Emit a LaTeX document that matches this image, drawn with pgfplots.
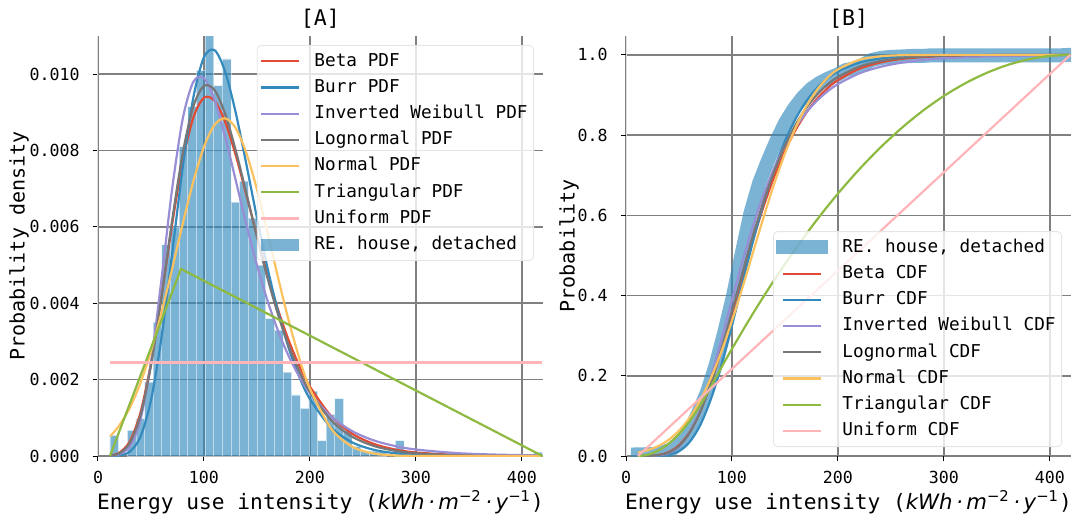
\documentclass[border=0pt]{standalone}
\usepackage{fontspec}
\setmainfont{DejaVu Sans Mono}
\newfontfamily\dvs{DejaVu Sans}
\usepackage{pgfplots}
\usepackage{pgfplotstable}
\pgfplotsset{compat=1.18}

\definecolor{ggred}{HTML}{E24A33}
\definecolor{ggblue}{HTML}{348ABD}
\definecolor{ggpurple}{HTML}{988ED5}
\definecolor{gggray}{HTML}{777777}
\definecolor{ggyellow}{HTML}{FBC15E}
\definecolor{gggreen}{HTML}{8EBA42}
\definecolor{ggpink}{HTML}{FFB5B8}

% histogram (bin centres, density), bin width 8.164
\pgfplotstableread{
x y
15.38 0.00054
31.71 0.00067
39.87 0.00098
48.04 0.00194
56.20 0.0035
64.37 0.00553
72.53 0.0060
80.70 0.0081
88.86 0.00915
97.02 0.0101
105.19 0.0125
113.35 0.0097
121.51 0.0104
129.68 0.00665
137.84 0.0072
146.01 0.00623
154.17 0.0050
162.33 0.0036
170.50 0.0033
178.66 0.0022
186.83 0.0016
194.99 0.00125
203.15 0.0017
211.32 0.0004
219.48 0.00109
227.65 0.0015
235.81 0.00067
243.97 0.00025
252.14 0.00013
260.30 0.00013
268.46 0.00013
284.79 0.0004
415.42 0.0001
}\hist

% fitted densities
\pgfplotstableread{
x beta burr invw logn norm
11.5 0.0000137 0.0000012 0.0000069 0.0000103 0.000517
20 0.000083 0.0000142 0.0000441 0.0000682 0.000795
30 0.000382 0.000113 0.000249 0.000339 0.001262
40 0.001126 0.000501 0.000937 0.001057 0.001908
50 0.002433 0.001457 0.002436 0.00237 0.002746
60 0.004185 0.003119 0.004648 0.004186 0.003760
70 0.006069 0.005306 0.007000 0.006175 0.004904
80 0.007721 0.007564 0.008834 0.007934 0.006086
90 0.008865 0.009389 0.009800 0.009153 0.007193
100 0.009384 0.010443 0.009894 0.009693 0.008095
110 0.009305 0.010630 0.009326 0.009584 0.008672
120 0.008751 0.010069 0.008356 0.008960 0.008844
130 0.007879 0.008990 0.007219 0.008003 0.008587
140 0.006844 0.007643 0.006069 0.006883 0.007937
150 0.005771 0.006241 0.005004 0.005738 0.006985
160 0.004747 0.004925 0.004067 0.004660 0.005852
170 0.003823 0.003776 0.003273 0.003702 0.004667
180 0.003026 0.002827 0.002616 0.002888 0.003544
190 0.002360 0.002072 0.002081 0.002217 0.002563
200 0.001818 0.001495 0.001651 0.001682 0.001763
220 0.001046 0.000745 0.001035 0.000936 0.000721
240 0.000584 0.000356 0.000650 0.000505 0.000242
260 0.000320 0.000165 0.000411 0.000267 0.0000667
280 0.000172 0.0000749 0.000263 0.000139 0.0000151
300 0.000092 0.0000335 0.000170 0.0000713 0.0000028
340 0.0000258 0.0000066 0.0000735 0.0000186 0
380 0.0000072 0.0000013 0.0000339 0.0000048 0
419.5 0.000002 0.0000002 0.0000166 0.0000012 0
}\pdfs

% fitted distribution functions
\pgfplotstableread{
x beta burr invw logn norm
11.3 0.00005 0 0.00003 0.00003 0.0085
20 0.0004 0.00005 0.0002 0.0003 0.0141
30 0.0024 0.0006 0.00145 0.0021 0.0242
40 0.0095 0.0033 0.0068 0.0086 0.0399
50 0.0269 0.0125 0.0229 0.0252 0.0630
60 0.0597 0.0348 0.0580 0.0577 0.0954
70 0.1110 0.0767 0.1164 0.1095 0.1387
80 0.1803 0.1412 0.1962 0.1804 0.1935
90 0.2637 0.2265 0.2901 0.2664 0.2601
100 0.3554 0.3263 0.3892 0.3611 0.3369
110 0.4494 0.4324 0.4858 0.4580 0.4207
120 0.5400 0.5365 0.5744 0.5512 0.5088
130 0.6234 0.6321 0.6524 0.6362 0.5964
140 0.6971 0.7154 0.7187 0.7107 0.6794
150 0.7601 0.7847 0.7741 0.7737 0.7540
160 0.8126 0.8405 0.8193 0.8256 0.8183
170 0.8553 0.8838 0.8559 0.8673 0.8710
180 0.8895 0.9166 0.8852 0.9001 0.9120
190 0.9163 0.9410 0.9086 0.9256 0.9423
200 0.9370 0.9587 0.9272 0.9449 0.9637
220 0.9651 0.9803 0.9536 0.9705 0.9874
240 0.9810 0.9909 0.9701 0.9845 0.9964
260 0.9898 0.9959 0.9805 0.9919 0.9991
280 0.9945 0.9981 0.9871 0.9959 0.9998
300 0.9971 0.9992 0.9914 0.9979 1.0
340 0.9992 0.9998 0.9959 0.9994 1.0
380 0.9998 1.0 0.9980 0.9999 1.0
419.5 0.9999 1.0 0.9989 1.0 1.0
}\cdfs

\pgfplotstableread{
x y
11.3 0
20 0.00277
30 0.01279
40 0.03012
50 0.05476
60 0.08672
70 0.12599
78.3 0.16414
90 0.2205
100 0.2671
120 0.3560
140 0.4391
160 0.5165
180 0.5882
200 0.6541
220 0.7142
240 0.7687
260 0.8173
280 0.8603
300 0.8975
320 0.9289
340 0.9546
360 0.9746
380 0.9888
400 0.9973
419.5 1.0
}\tricdf

% empirical CDF
\pgfplotstableread{
x y
11.3 0.004
19.46 0.0045
27.63 0.0050
35.79 0.0100
43.96 0.0180
52.12 0.0340
60.28 0.0630
68.45 0.1090
76.61 0.1600
84.78 0.2280
92.94 0.3100
101.10 0.4000
109.27 0.5050
117.43 0.6050
125.60 0.6800
133.76 0.7350
141.92 0.7850
150.09 0.8300
158.25 0.8650
166.42 0.8930
174.58 0.9150
182.74 0.9300
190.91 0.9410
199.07 0.9500
207.24 0.9620
215.40 0.9660
223.56 0.9750
231.73 0.9870
239.89 0.9920
248.06 0.9945
256.22 0.9955
264.38 0.9965
272.55 0.9975
280.71 0.9975
288.88 0.9990
411.34 0.9990
419.50 1.0000
}\ecdf

\pgfplotsset{
  eui/.style={
    width=222.5pt, height=210pt, scale only axis,
    xmin=0, xmax=420, xtick={0,100,200,300,400},
    axis lines*=left,
    x axis line style={draw=none},
    y axis line style={draw=black!12, line width=0.5pt},
    tick align=outside, major tick length=2.5pt,
    tick style={black, line width=0.5pt},
    grid=major, major grid style={draw=black!50, line width=0.8pt},
    tick label style={font=\fontsize{8.3}{10}\selectfont},
    /pgf/number format/assume math mode=true,
    xticklabel style={yshift=-1.75pt},
    every axis x label/.style={at={([yshift=-23pt]axis description cs:0.5,0)}, anchor=center},
    every axis title/.style={at={([yshift=8.5pt]axis description cs:0.5,1)}, anchor=center, font=\fontsize{10.8}{13}\selectfont},
    label style={font=\fontsize{10.6}{12}\selectfont},
    xlabel={Energy use intensity ({\dvs\itshape kWh\,·\,m\textsuperscript{\upshape −2}\,·\,y\textsuperscript{\upshape −1}})},
    legend cell align=left,
    legend image code/.code={\draw[##1] (0pt,0pt) -- (19pt,0pt);},
    legend style={font=\fontsize{8.85}{10}\selectfont,
      draw=black!10, fill=white, fill opacity=0.8, text opacity=1, draw opacity=1,
      rounded corners=2pt, inner xsep=1.5pt, inner ysep=2pt,
      nodes={inner sep=1.5pt, text height=6.8pt, text depth=2pt},
      row sep=1.3pt,
      /tikz/every odd column/.append style={column sep=5.5pt}},
    every axis plot/.append style={line width=1.1pt},
  },
}

\begin{document}
\begin{tikzpicture}
\begin{axis}[eui, name=a,
    ymin=0, ymax=0.011, ytick={0,0.002,0.004,0.006,0.008,0.010},
    scaled y ticks=false,
    yticklabel style={xshift=-3.2pt, /pgf/number format/fixed,
      /pgf/number format/fixed zerofill, /pgf/number format/precision=3},
    ylabel={Probability density},
    every axis y label/.style={at={([xshift=-39.5pt]axis description cs:0,0.5)}, rotate=90, anchor=center},
    title={[A]},
    legend style={at={(1,1)}, anchor=north east, xshift=-4.5pt, yshift=-4.5pt}]
  \addplot[ybar, bar width=8.164, bar shift=0pt, fill=ggblue, fill opacity=0.65,
    draw=white, draw opacity=0.5, line width=0.4pt, forget plot] table[x=x, y=y] {\hist};
  \addplot[ggred, smooth] table[x=x, y=beta] {\pdfs};
  \addlegendentry{Beta PDF}
  \addplot[ggblue, smooth] table[x=x, y=burr] {\pdfs};
  \addlegendentry{Burr PDF}
  \addplot[ggpurple, smooth] table[x=x, y=invw] {\pdfs};
  \addlegendentry{Inverted Weibull PDF}
  \addplot[gggray, smooth] table[x=x, y=logn] {\pdfs};
  \addlegendentry{Lognormal PDF}
  \addplot[ggyellow, smooth] table[x=x, y=norm] {\pdfs};
  \addlegendentry{Normal PDF}
  \addplot[gggreen] coordinates {(11.3,0) (78.3,0.0049) (419.5,0)};
  \addlegendentry{Triangular PDF}
  \addplot[ggpink] coordinates {(11.3,0.00245) (419.5,0.00245)};
  \addlegendentry{Uniform PDF}
  \addlegendimage{legend image code/.code={\path[fill=ggblue, fill opacity=0.65, draw=none, sharp corners] (0pt,-3pt) rectangle (19pt,3pt);}}
  \addlegendentry{RE. house, detached}
\end{axis}

\begin{axis}[eui, name=b, at={(264pt,0pt)},
    ymin=0, ymax=1.047, ytick={0,0.2,0.4,0.6,0.8,1.0},
    yticklabel style={xshift=-3.2pt, /pgf/number format/fixed,
      /pgf/number format/fixed zerofill, /pgf/number format/precision=1},
    ylabel={Probability},
    every axis y label/.style={at={([xshift=-28.5pt]axis description cs:0,0.5)}, rotate=90, anchor=center},
    title={[B]},
    legend style={at={(1,0)}, anchor=south east, xshift=-4.5pt, yshift=4.5pt}]
  \addplot[ggblue, draw opacity=0.65, line width=7pt, line cap=rect, line join=round] table[x=x, y=y] {\ecdf};
  \addlegendentry{RE. house, detached}
  \addplot[ggred, smooth] table[x=x, y=beta] {\cdfs};
  \addlegendentry{Beta CDF}
  \addplot[ggblue, smooth] table[x=x, y=burr] {\cdfs};
  \addlegendentry{Burr CDF}
  \addplot[ggpurple, smooth] table[x=x, y=invw] {\cdfs};
  \addlegendentry{Inverted Weibull CDF}
  \addplot[gggray, smooth] table[x=x, y=logn] {\cdfs};
  \addlegendentry{Lognormal CDF}
  \addplot[ggyellow, smooth] table[x=x, y=norm] {\cdfs};
  \addlegendentry{Normal CDF}
  \addplot[gggreen, smooth] table[x=x, y=y] {\tricdf};
  \addlegendentry{Triangular CDF}
  \addplot[ggpink] coordinates {(11.3,0) (419.5,1)};
  \addlegendentry{Uniform CDF}
\end{axis}
\pgfresetboundingbox
\useasboundingbox (-49pt,-29.5pt) rectangle (488pt,228pt);
\end{tikzpicture}
\end{document}
